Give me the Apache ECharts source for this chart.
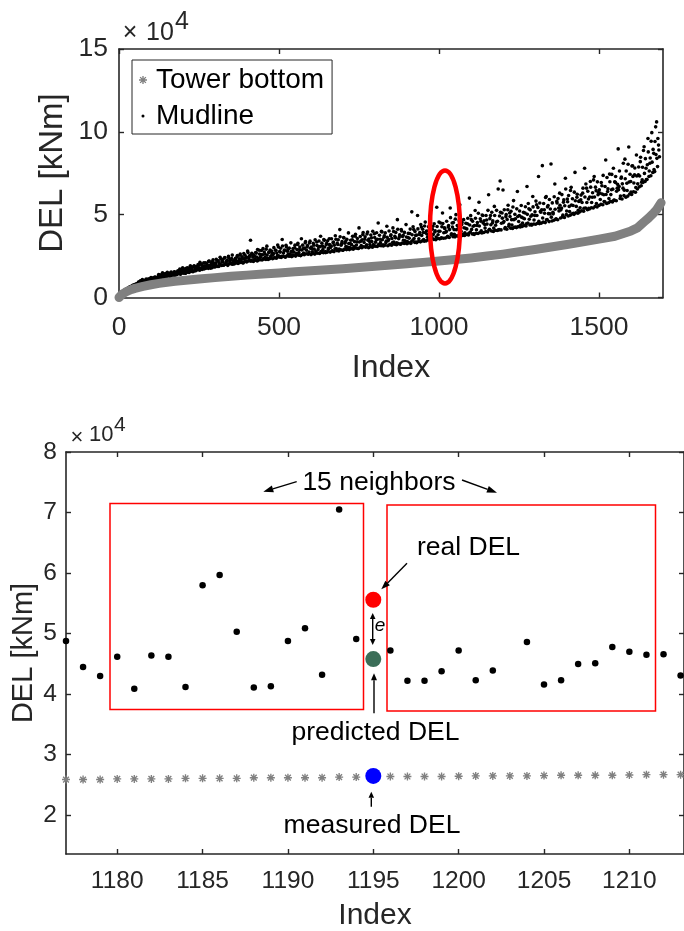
<!DOCTYPE html>
<html>
<head>
<meta charset="utf-8">
<script src="https://cdn.jsdelivr.net/npm/echarts@6/dist/echarts.min.js"></script>
</head>
<body style="margin:0">
<div id="main" style="width:684px;height:931px"></div>
<script>
// ---- top panel: DEL of all cases, sorted by tower bottom DEL (unit 1e4 kNm)
var towerIdx = [0, 5, 10, 20, 30, 40, 50, 75, 100, 125, 150, 175, 200, 250, 300, 350, 400, 450, 500, 550,
    600, 650, 700, 750, 800, 850, 900, 950, 1000, 1050, 1100, 1150, 1200, 1250, 1300, 1350, 1400, 1450,
    1500, 1550, 1600, 1620, 1640, 1655, 1670, 1680, 1690, 1694];
var towerDel = [0, 0.12, 0.2, 0.32, 0.41, 0.49, 0.55, 0.67, 0.77, 0.85, 0.92, 0.98, 1.03, 1.12, 1.2, 1.28, 1.35, 1.42, 1.48, 1.55,
    1.61, 1.68, 1.74, 1.81, 1.88, 1.96, 2.04, 2.12, 2.2, 2.29, 2.39, 2.5, 2.62, 2.76, 2.9, 3.05, 3.2, 3.36,
    3.52, 3.7, 4.02, 4.2, 4.55, 4.8, 5.08, 5.3, 5.6, 5.72];

// mudline DEL at index 0, 3, 6, ...
var mudDelA = [
    0.00, 0.12, 0.19, 0.27, 0.32, 0.38, 0.42, 0.47, 0.50, 0.55, 0.57, 0.62, 0.63, 0.68, 0.69, 0.74, 0.73, 0.79, 0.78, 0.84,
    0.83, 0.94, 0.88, 0.99, 0.90, 1.02, 0.95, 0.93, 1.06, 0.98, 1.10, 1.01, 1.04, 1.14, 1.05, 1.18, 1.09, 1.12, 1.22, 1.11,
    1.13, 1.28, 1.18, 1.35, 1.20, 1.25, 1.40, 1.22, 1.33, 1.27, 1.45, 1.30, 1.38, 1.28, 1.50, 1.34, 1.42, 1.36, 1.55, 1.40,
    1.38, 1.55, 1.44, 1.62, 1.41, 1.50, 1.70, 1.47, 1.58, 1.46, 1.76, 1.53, 1.64, 1.51, 1.82, 1.57, 1.68, 1.55, 1.88, 1.62,
    1.62, 1.85, 1.68, 1.95, 1.65, 1.76, 2.02, 1.70, 1.88, 1.73, 2.10, 1.79, 1.93, 1.76, 2.20, 1.82, 1.98, 1.80, 2.28, 1.86,
    1.84, 2.10, 1.90, 2.22, 1.87, 2.00, 2.32, 1.93, 2.15, 1.95, 2.40, 2.01, 2.18, 1.98, 2.48, 2.05, 2.26, 2.02, 2.56, 2.08,
    2.02, 2.30, 2.08, 2.45, 2.05, 2.18, 2.55, 2.12, 2.36, 2.10, 2.66, 2.17, 2.40, 2.14, 2.80, 2.20, 2.48, 3.46, 2.24, 2.60,
    2.18, 2.50, 2.25, 2.68, 2.21, 2.36, 2.85, 2.28, 2.58, 2.26, 2.95, 2.33, 2.62, 2.30, 3.10, 2.37, 2.72, 2.34, 2.45, 2.80,
    2.34, 2.66, 2.40, 2.85, 2.37, 2.52, 3.05, 2.44, 2.74, 2.41, 3.50, 2.48, 2.80, 2.46, 3.15, 2.52, 2.90, 2.49, 2.62, 3.30,
    2.47, 2.80, 2.53, 3.00, 2.50, 2.66, 3.20, 2.56, 2.90, 2.54, 3.55, 2.60, 2.95, 2.58, 3.30, 2.64, 3.05, 2.61, 2.75, 3.40,
    2.59, 2.95, 2.65, 3.15, 2.62, 2.78, 3.35, 2.68, 3.05, 2.66, 3.70, 2.73, 3.10, 2.70, 3.45, 2.77, 3.20, 2.74, 2.90, 3.55,
    2.74, 3.10, 2.80, 3.30, 2.77, 2.94, 3.52, 2.83, 3.20, 2.81, 4.10, 2.88, 3.25, 2.85, 3.62, 2.92, 3.38, 2.89, 3.05, 3.90,
    2.89, 3.25, 2.95, 3.48, 2.92, 3.08, 3.70, 2.98, 3.36, 2.96, 4.20, 3.02, 3.40, 3.00, 3.80, 3.06, 3.52, 3.03, 3.18, 3.95,
    3.01, 3.38, 3.07, 3.60, 3.04, 3.20, 3.85, 3.10, 3.48, 3.08, 4.50, 3.14, 3.52, 3.12, 3.95, 3.18, 3.64, 3.15, 3.30, 4.30,
    3.12, 3.50, 3.18, 3.72, 3.15, 3.32, 3.98, 3.21, 3.60, 3.19, 4.70, 3.25, 3.65, 3.23, 4.10, 3.29, 3.76, 3.26, 3.42, 4.40,
    3.24, 3.62, 3.30, 3.86, 3.27, 5.17, 3.46, 4.10, 3.33, 3.75, 3.31, 4.95, 3.38, 3.80, 3.36, 4.25, 3.42, 3.92, 3.40, 4.55,
    3.42, 3.82, 3.48, 4.05, 3.45, 5.30, 3.62, 4.30, 3.50, 3.95, 3.49, 5.45, 3.56, 4.00, 3.54, 4.50, 3.60, 5.10, 3.58, 4.20,
    3.59, 4.00, 3.65, 4.25, 3.62, 5.40, 3.78, 4.50, 3.67, 4.10, 3.66, 5.00, 3.72, 4.15, 3.70, 5.60, 3.76, 4.40, 3.74, 4.70,
    3.74, 4.18, 3.80, 4.45, 3.77, 6.00, 3.95, 4.70, 3.83, 4.30, 3.81, 5.25, 3.88, 4.35, 3.86, 5.75, 3.92, 4.60, 3.90, 4.95,
    3.92, 4.40, 3.98, 4.68, 3.95, 6.20, 4.12, 4.95, 4.01, 4.50, 3.99, 5.50, 4.06, 4.55, 4.04, 6.55, 4.10, 7.03, 4.08, 5.10,
    6.49, 4.58, 4.15, 4.88, 4.12, 5.30, 4.30, 5.10, 4.18, 4.70, 4.17, 5.85, 4.24, 4.75, 4.22, 6.40, 4.28, 4.95, 4.26, 5.55,
    4.29, 4.80, 4.35, 5.10, 4.32, 6.70, 4.50, 5.35, 4.38, 4.90, 4.37, 6.10, 4.44, 4.95, 4.42, 5.60, 4.48, 7.30, 4.46, 5.20,
    4.49, 7.96, 4.55, 5.30, 4.52, 6.10, 4.70, 5.55, 4.58, 5.05, 8.06, 4.62, 5.15, 4.66, 6.85, 4.72, 5.80, 4.69, 5.40, 6.30,
    4.80, 5.40, 4.86, 5.75, 4.83, 7.20, 5.00, 5.95, 4.92, 5.50, 4.97, 6.65, 5.05, 5.55, 5.02, 7.55, 5.12, 6.05, 5.09, 5.80,
    5.17, 5.90, 5.24, 6.30, 5.21, 7.80, 5.40, 6.60, 5.30, 5.95, 5.34, 7.00, 5.42, 6.05, 5.40, 7.30, 5.50, 6.45, 5.46, 6.20,
    5.55, 6.30, 5.62, 6.75, 5.60, 6.20, 5.78, 8.30, 5.68, 6.40, 5.72, 7.45, 5.80, 6.50, 5.77, 7.80, 5.88, 6.95, 5.84, 6.60,
    8.97, 6.70, 5.98, 7.20, 5.95, 6.60, 6.15, 8.35, 6.05, 6.90, 6.12, 9.08, 6.25, 7.00, 6.22, 7.95, 6.38, 7.40, 6.35, 8.60,
    6.55, 7.40, 6.68, 8.20, 6.75, 7.10, 6.95, 9.10, 7.00, 7.80, 7.12, 9.60, 7.30, 8.10, 7.35, 9.95, 7.55, 8.70, 7.60, 10.30,
    10.60, 7.90, 9.20, 8.50
];
// mudline DEL at index 1, 4, 7, ...
var mudDelB = [
    0.05, 0.18, 0.23, 0.33, 0.33, 0.41, 0.48, 0.47, 0.54, 0.53, 0.59, 0.65, 0.64, 0.69, 0.74, 0.73, 0.77, 0.76, 0.83, 0.83,
    0.94, 0.87, 1.01, 0.94, 1.09, 0.91, 1.03, 0.98, 1.12, 1.05, 0.99, 1.13, 1.04, 1.21, 1.11, 1.04, 1.19, 1.24, 1.14, 1.21,
    1.21, 1.39, 1.16, 1.35, 1.29, 1.49, 1.24, 1.36, 1.44, 1.26, 1.52, 1.36, 1.44, 1.27, 1.53, 1.44, 1.38, 1.53, 1.35, 1.47,
    1.42, 1.61, 1.51, 1.72, 1.44, 1.61, 1.80, 1.54, 1.71, 1.47, 1.64, 1.79, 1.57, 1.72, 1.91, 1.67, 1.82, 1.59, 1.91, 1.76,
    1.86, 1.70, 1.99, 1.80, 2.12, 1.69, 1.95, 1.82, 2.10, 1.92, 1.77, 2.05, 1.84, 2.18, 1.95, 1.77, 2.08, 2.17, 1.93, 2.06,
    1.99, 2.30, 1.88, 2.20, 2.08, 2.43, 1.98, 2.17, 2.30, 1.97, 2.41, 2.11, 2.24, 1.94, 2.38, 2.21, 2.09, 2.35, 2.01, 2.21,
    2.09, 2.37, 2.21, 2.53, 2.08, 2.33, 2.62, 2.21, 2.46, 2.08, 2.33, 2.55, 2.21, 2.43, 2.71, 2.34, 2.55, 2.19, 2.67, 2.44,
    2.54, 2.31, 2.72, 2.44, 2.89, 2.26, 2.62, 2.43, 2.84, 2.57, 2.33, 2.74, 2.43, 2.92, 2.56, 2.29, 2.74, 2.87, 2.51, 2.68,
    2.56, 3.01, 2.40, 2.85, 2.68, 3.17, 2.51, 2.78, 2.97, 2.49, 3.11, 2.68, 2.86, 2.43, 3.05, 2.79, 2.62, 2.98, 2.50, 2.77,
    2.57, 2.96, 2.73, 3.16, 2.55, 2.89, 3.27, 2.71, 3.05, 2.53, 2.87, 3.16, 2.69, 2.98, 3.37, 2.85, 3.14, 2.64, 3.29, 2.97,
    3.05, 2.76, 3.27, 2.92, 3.48, 2.69, 3.14, 2.90, 3.41, 3.07, 2.77, 3.28, 2.89, 3.50, 3.05, 2.71, 3.27, 3.43, 2.98, 3.19,
    3.02, 3.55, 2.82, 3.35, 3.15, 3.73, 2.95, 3.28, 3.49, 2.92, 3.67, 3.15, 3.37, 2.85, 3.59, 3.28, 3.08, 3.51, 2.94, 3.26,
    3.02, 3.46, 3.19, 3.69, 2.98, 3.37, 3.82, 3.17, 3.56, 2.96, 3.35, 3.68, 3.14, 3.48, 3.92, 3.32, 3.66, 3.08, 3.83, 3.46,
    3.53, 3.20, 3.77, 3.38, 4.00, 3.11, 3.62, 3.34, 3.91, 3.52, 3.19, 3.76, 3.31, 3.99, 3.49, 3.11, 3.73, 3.90, 3.40, 3.63,
    3.43, 4.01, 3.21, 3.79, 3.56, 4.20, 3.35, 3.70, 3.93, 3.30, 4.12, 3.55, 3.78, 3.21, 4.02, 3.68, 3.46, 3.93, 3.30, 3.65,
    3.38, 3.87, 3.58, 4.13, 3.36, 3.79, 4.27, 3.56, 3.99, 3.34, 3.77, 4.14, 3.55, 3.92, 4.41, 3.75, 4.12, 3.50, 4.32, 3.91,
    4.01, 3.64, 4.27, 3.84, 4.54, 3.55, 4.12, 3.81, 4.45, 4.02, 3.65, 4.29, 3.79, 4.55, 4.00, 3.57, 4.27, 4.46, 3.91, 4.17,
    3.94, 4.60, 3.70, 4.35, 4.10, 4.82, 3.85, 4.25, 4.52, 3.81, 4.73, 4.09, 4.35, 3.71, 4.63, 4.25, 3.99, 4.52, 3.81, 4.21,
    3.91, 4.48, 4.14, 4.78, 3.88, 4.38, 4.94, 4.11, 4.61, 3.85, 4.35, 4.78, 4.09, 4.52, 5.09, 4.32, 4.75, 4.02, 4.98, 4.50,
    4.63, 4.19, 4.95, 4.43, 5.26, 4.07, 4.76, 4.39, 5.15, 4.63, 4.19, 4.95, 4.36, 5.26, 4.60, 4.08, 4.92, 5.15, 4.48, 4.79,
    4.52, 5.30, 4.22, 5.01, 4.71, 5.57, 4.42, 4.89, 5.21, 4.37, 5.46, 4.70, 5.02, 4.25, 5.35, 4.89, 4.59, 5.22, 4.38, 4.85,
    4.49, 5.14, 4.75, 5.48, 4.45, 5.02, 5.67, 4.72, 5.29, 4.42, 4.99, 5.47, 4.68, 5.17, 5.82, 4.95, 5.44, 4.60, 5.70, 5.15,
    5.30, 4.80, 5.67, 5.09, 6.04, 4.69, 5.47, 5.06, 5.92, 5.34, 4.85, 5.71, 5.05, 6.08, 5.33, 4.75, 5.70, 5.97, 5.22, 5.57,
    5.29, 6.21, 4.97, 5.89, 5.54, 6.55, 5.22, 5.78, 6.16, 5.19, 6.46, 5.58, 5.96, 5.08, 6.36, 5.84, 5.50, 6.23, 5.26, 5.82,
    5.41, 6.18, 5.73, 6.60, 5.39, 6.07, 6.85, 5.73, 6.41, 5.39, 6.07, 6.66, 5.73, 6.32, 7.10, 6.07, 6.66, 5.67, 6.98, 6.34,
    6.50, 5.92, 6.94, 6.25, 7.37, 5.79, 6.70, 6.22, 7.24, 6.56, 5.97, 6.99, 6.21, 7.43, 6.54, 5.86, 6.98, 7.30, 6.41, 6.83,
    6.51, 7.64, 6.13, 7.27, 6.86, 8.10, 6.48, 7.17, 7.64, 6.46, 8.04, 6.97, 7.44, 6.37, 7.94, 7.31, 6.91, 7.82, 6.64, 7.33,
    6.86, 7.88, 7.33, 8.47, 6.96, 7.86, 8.87, 7.49, 8.38, 7.12, 8.01, 8.79, 7.64, 8.42, 9.43, 8.17, 8.94, 7.73, 9.42, 8.63,
    8.40, 9.60, 8.90
];

// ---- bottom panel: zoom around index 1195
var zoomIdx = [1177, 1178, 1179, 1180, 1181, 1182, 1183, 1184, 1185, 1186, 1187, 1188, 1189, 1190, 1191, 1192, 1193, 1194,
    1195, 1196, 1197, 1198, 1199, 1200, 1201, 1202, 1203, 1204, 1205, 1206, 1207, 1208, 1209, 1210, 1211, 1212, 1213];
var zoomTower = [2.59, 2.59, 2.59, 2.60, 2.60, 2.60, 2.60, 2.61, 2.61, 2.61, 2.61, 2.62, 2.62, 2.62, 2.62, 2.62, 2.63, 2.63,
    2.64, 2.64, 2.64, 2.64, 2.64, 2.645, 2.65, 2.65, 2.65, 2.65, 2.655, 2.66, 2.66, 2.66, 2.66, 2.665, 2.67, 2.67, 2.67];
var mudIdxZoom = [1177, 1178, 1179, 1180, 1181, 1182, 1183, 1184, 1185, 1186, 1187, 1188, 1189, 1190, 1191, 1192, 1193, 1194,
    1196, 1197, 1198, 1199, 1200, 1201, 1202, 1204, 1205, 1206, 1207, 1208, 1209, 1210, 1211, 1212, 1213];
var mudZoom = [4.88, 4.45, 4.30, 4.62, 4.09, 4.64, 4.62, 4.12, 5.80, 5.97, 5.03, 4.11, 4.13, 4.88, 5.09, 4.32, 7.05, 4.91,
    4.72, 4.22, 4.22, 4.38, 4.72, 4.23, 4.39, 4.86, 4.16, 4.23, 4.50, 4.51, 4.78, 4.70, 4.65, 4.66, 4.31];
var testIdx = 1195;
var realDel = 5.56;
var predictedDel = 4.58;
var measuredDel = 2.65;

var topTicksX = [0, 500, 1000, 1500];
var botTicksX = [1180, 1185, 1190, 1195, 1200, 1205, 1210];
var botTicksY = [2, 3, 4, 5, 6, 7, 8];

function pairs(xs, ys) {
    var out = [];
    for (var i = 0; i < ys.length; i++) out.push([xs[i], ys[i]]);
    return out;
}
var mudData = [];
for (var i = 0; i < mudDelA.length; i++) mudData.push([i * 3, mudDelA[i]]);
for (var j = 0; j < mudDelB.length; j++) mudData.push([j * 3 + 1, mudDelB[j]]);

var axisColor = '#262626';
var fam = '"Liberation Sans", Arial, sans-serif';
var asterisk = 'path://M-0.17,-1L0.17,-1L0.17,1L-0.17,1ZM-1,-0.17L1,-0.17L1,0.17L-1,0.17Z' +
    'M-0.6,-0.84L0.84,0.6L0.6,0.84L-0.84,-0.6ZM0.6,-0.84L0.84,-0.6L-0.6,0.84L-0.84,0.6Z';
var smallDot = 'path://M0.38,0A0.38,0.38,0,1,1,-0.38,0A0.38,0.38,0,1,1,0.38,0ZM-1,-1L-1,-1ZM1,1L1,1Z';

function plain(v) { return String(v); }

function axis(grid, min, max, ticks, showLabel, pos, fs, margin) {
    return {
        type: 'value', gridIndex: grid, min: min, max: max, position: pos,
        axisLine: {show: true, onZero: false, lineStyle: {color: axisColor, width: 1.6}},
        axisTick: {show: true, inside: true, length: 5, customValues: ticks, lineStyle: {color: axisColor, width: 1.4}},
        axisLabel: {show: showLabel, customValues: ticks, formatter: plain, fontSize: fs, fontFamily: fam,
            color: axisColor, margin: margin},
        splitLine: {show: false}
    };
}

function arrow(x1, y1, x2, y2, len, half) {
    var a = Math.atan2(y2 - y1, x2 - x1);
    var bx = x2 - len * Math.cos(a), by = y2 - len * Math.sin(a);
    return [
        {type: 'line', shape: {x1: x1, y1: y1, x2: bx, y2: by}, style: {stroke: '#000', lineWidth: 1.4}},
        {type: 'polygon', shape: {points: [[x2, y2], [bx + half * Math.sin(a), by - half * Math.cos(a)],
            [bx - half * Math.sin(a), by + half * Math.cos(a)]]}, style: {fill: '#000'}}
    ];
}
function txt(x, y, s, fs, extra) {
    var st = {text: s, fontSize: fs, fontFamily: fam, fill: '#000', align: 'center', verticalAlign: 'middle'};
    for (var k in extra) st[k] = extra[k];
    return {type: 'text', x: x, y: y, style: st};
}

var graphics = [
    // top panel annotations
    {type: 'ellipse', shape: {cx: 445, cy: 227, rx: 15, ry: 56.5}, style: {fill: 'none', stroke: '#ff0000', lineWidth: 4.5}, z: 100},
    txt(130, 33, '\u00d7', 25, {fill: axisColor}),
    txt(146, 33.5, '10', 25, {fill: axisColor, align: 'left'}),
    txt(175, 22, '4', 25, {fill: axisColor, align: 'left'}),
    {type: 'text', x: 53, y: 173, rotation: Math.PI / 2,
        style: {text: 'DEL [kNm]', fontSize: 33, fontFamily: fam, fill: axisColor, align: 'center', verticalAlign: 'middle'}},
    txt(391, 368, 'Index', 32, {fill: axisColor}),
    // bottom panel annotations
    txt(77, 438, '\u00d7', 22, {fill: axisColor}),
    txt(89, 435, '10', 22, {fill: axisColor, align: 'left'}),
    txt(114, 425, '4', 21, {fill: axisColor, align: 'left'}),
    {type: 'text', x: 23.5, y: 653, rotation: Math.PI / 2,
        style: {text: 'DEL [kNm]', fontSize: 29, fontFamily: fam, fill: axisColor, align: 'center', verticalAlign: 'middle'}},
    txt(375, 916, 'Index', 30, {fill: axisColor}),
    {type: 'rect', shape: {x: 110, y: 503.5, width: 253.5, height: 206}, style: {fill: 'none', stroke: '#ff0000', lineWidth: 1.5}},
    {type: 'rect', shape: {x: 387, y: 505, width: 268.5, height: 206}, style: {fill: 'none', stroke: '#ff0000', lineWidth: 1.5}},
    txt(379, 482.5, '15 neighbors', 26.5),
    txt(468.5, 547.5, 'real DEL', 26.5),
    txt(375.5, 732.5, 'predicted DEL', 26.5),
    txt(372, 826, 'measured DEL', 26.5),
    txt(380, 626, 'e', 19, {fontStyle: 'italic'})
];
graphics = graphics
    .concat(arrow(296.7, 481.7, 263.3, 491.7, 10, 3.5))
    .concat(arrow(462, 480, 497, 492.7, 10, 3.5))
    .concat(arrow(407, 563.3, 381.3, 589.3, 9, 3.2))
    .concat(arrow(372.7, 629, 372.7, 613, 6, 2.8))
    .concat(arrow(372.7, 629, 372.7, 645, 6, 2.8))
    .concat(arrow(374, 713.3, 374, 673.3, 7, 3))
    .concat(arrow(371.3, 806.7, 371.3, 791.7, 6, 2.8));

var chart = echarts.init(document.getElementById('main'));
var option = {
    animation: false,
    backgroundColor: '#ffffff',
    grid: [
        {left: 119, top: 49, width: 544, height: 248.5},
        {left: 66, top: 452, width: 618, height: 402}
    ],
    xAxis: [
        axis(0, 0, 1700, topTicksX, true, 'bottom', 26.5, 16.5),
        axis(0, 0, 1700, topTicksX, false, 'top', 26.5, 8),
        axis(1, 1177, 1213.2, botTicksX, true, 'bottom', 24.5, 14.5),
        axis(1, 1177, 1213.2, botTicksX, false, 'top', 24.5, 8)
    ],
    yAxis: [
        axis(0, 0, 15, [0, 5, 10, 15], true, 'left', 26.5, 11),
        axis(0, 0, 15, [0, 5, 10, 15], false, 'right', 26.5, 8),
        axis(1, 1.36, 8, botTicksY, true, 'left', 24.5, 9),
        axis(1, 1.36, 8, botTicksY, false, 'right', 24.5, 8)
    ],
    legend: {
        data: [{name: 'Tower bottom', icon: asterisk}, {name: 'Mudline', icon: smallDot}],
        orient: 'vertical', left: 132, top: 60, itemGap: 0, itemWidth: 16, itemHeight: 8,
        padding: [2, 8, 0, 7], borderColor: axisColor, borderWidth: 1, backgroundColor: '#fff',
        selectedMode: false, itemStyle: {borderWidth: 0},
        textStyle: {fontSize: 28, lineHeight: 36, fontFamily: fam, color: '#000'}
    },
    graphic: {elements: graphics},
    series: [
        {
            name: 'Tower bottom', type: 'line', xAxisIndex: 0, yAxisIndex: 0,
            data: pairs(towerIdx, towerDel), symbol: 'none', smooth: false,
            itemStyle: {color: '#808080'},
            lineStyle: {color: '#808080', width: 9, cap: 'round', join: 'round'}
        },
        {
            name: 'Mudline', type: 'scatter', xAxisIndex: 0, yAxisIndex: 0,
            data: mudData, symbol: 'circle', symbolSize: 3.6, itemStyle: {color: '#000', opacity: 1}
        },
        {
            name: 'zoomTower', type: 'scatter', xAxisIndex: 2, yAxisIndex: 2,
            data: pairs(zoomIdx, zoomTower), symbol: asterisk, symbolSize: 8, itemStyle: {color: '#808080', opacity: 1}
        },
        {
            name: 'zoomMud', type: 'scatter', xAxisIndex: 2, yAxisIndex: 2,
            data: pairs(mudIdxZoom, mudZoom), symbol: 'circle', symbolSize: 6.5, itemStyle: {color: '#000', opacity: 1}
        },
        {
            name: 'real', type: 'scatter', xAxisIndex: 2, yAxisIndex: 2,
            data: [[testIdx, realDel]], symbolSize: 16, itemStyle: {color: '#ff0000', opacity: 1}, z: 5
        },
        {
            name: 'predicted', type: 'scatter', xAxisIndex: 2, yAxisIndex: 2,
            data: [[testIdx, predictedDel]], symbolSize: 16, itemStyle: {color: '#3b6e58', opacity: 1}, z: 5
        },
        {
            name: 'measured', type: 'scatter', xAxisIndex: 2, yAxisIndex: 2,
            data: [[testIdx, measuredDel]], symbolSize: 16, itemStyle: {color: '#0000ff', opacity: 1}, z: 5
        }
    ]
};
chart.setOption(option);
</script>
</body>
</html>
